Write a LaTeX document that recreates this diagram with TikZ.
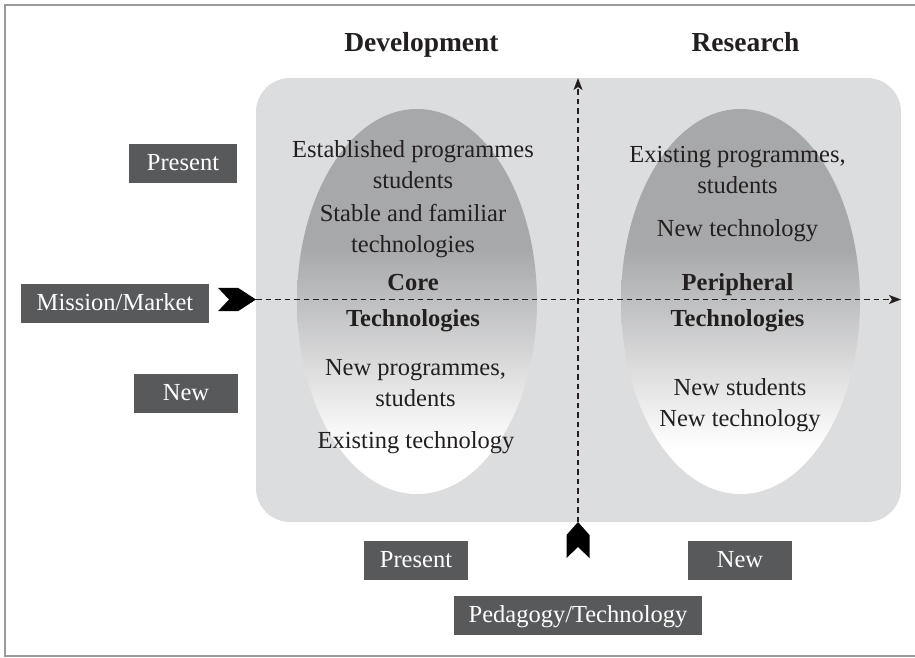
\documentclass[tikz,border=0pt]{standalone}
\usepackage{fontspec}
\setmainfont{Liberation Serif}
\usetikzlibrary{arrows.meta}
\definecolor{boxgray}{HTML}{58595B}
\definecolor{panel}{HTML}{DCDDDF}
\definecolor{ellgray}{HTML}{A7A8AA}
\definecolor{ink}{HTML}{231F20}
\definecolor{framecol}{HTML}{9A9A9A}
\pgfdeclareverticalshading{ellshade}{100bp}{color(0bp)=(white); color(31bp)=(white); color(57bp)=(ellgray); color(100bp)=(ellgray)}
\begin{document}
\begin{tikzpicture}[x=1pt,y=-1pt,
  tag/.style={fill=boxgray, text=white, minimum height=39pt, inner sep=0pt,
    text height=17pt, text depth=4pt, font=\fontsize{24.5}{30}\selectfont},
  body/.style={text=ink, align=center, inner sep=0pt, anchor=base,
    font=\fontsize{24.5}{31}\selectfont},
  boldtxt/.style={text=ink, align=center, inner sep=0pt, anchor=base,
    font=\bfseries\fontsize{24.5}{36}\selectfont},
  title/.style={text=ink, inner sep=0pt, anchor=base,
    font=\bfseries\fontsize{27.5}{32}\selectfont},
  axisline/.style={ink, line width=1.3pt, dash pattern=on 5.5pt off 4pt,
    -{Stealth[length=12pt,width=9pt,inset=3pt]}},
  chevron/.style={fill=black, draw=none},
  ellipsebg/.style={shading=ellshade, draw=none},
]
\useasboundingbox (0,0) rectangle (915,657);
% frame
\draw[framecol, line width=1.2pt] (930,5) -- (5,5) -- (5,656) -- (930,656);
% panel
\fill[panel, rounded corners=34pt] (256,78) rectangle (901,522);
% ellipses
\shade[ellipsebg] (417,301.5) ellipse [x radius=120, y radius=192.5];
\shade[ellipsebg] (740.5,301.5) ellipse [x radius=119.5, y radius=192.5];
% axis coordinates
\coordinate (mmtip) at (256,299.5);
\coordinate (hend) at (901,299.5);
\coordinate (pttip) at (578,522);
\coordinate (vend) at (578,78);
\draw[axisline] (mmtip) -- (hend);
\draw[axisline] (pttip) -- (vend);
% chevrons
\fill[chevron] (mmtip) -- ++(-18,-11.7) -- ++(-20,0) -- ++(11,11.7) -- ++(-11,11.7) -- ++(20,0) -- cycle;
\fill[chevron] (pttip) -- ++(11.5,13) -- ++(0,23) -- ++(-11.5,-11) -- ++(-11.5,11) -- ++(0,-23) -- cycle;
% titles
\node[title] (dev) at (421.5,51) {Development};
\node[title] (res) at (745.5,51) {Research};
% left ellipse texts (base = last line's baseline)
\node[body] (l1) at (413,188.3) {Established programmes\\students};
\node[body] (l2) at (413,252.3) {Stable and familiar\\technologies};
\node[boldtxt] (l3) at (413,326) {Core\\Technologies};
\node[body] (l4) at (415.5,406.7) {New programmes,\\students};
\node[body] (l5) at (416,448.3) {Existing technology};
% right ellipse texts
\node[body] (r1) at (737.5,193.3) {Existing programmes,\\students};
\node[body] (r2) at (737.5,236.7) {New technology};
\node[boldtxt] (r3) at (737.5,326) {Peripheral\\Technologies};
\node[body] (r4) at (740,426.7) {New students\\New technology};
% tags
\node[tag, minimum width=108pt] (present1) at (183,163.5) {Present};
\node[tag, minimum width=188pt] (mission) at (115,303.5) {Mission/Market};
\node[tag, minimum width=104pt] (new1) at (186,393.5) {New};
\node[tag, minimum width=104pt] (present2) at (416,560.5) {Present};
\node[tag, minimum width=104pt] (new2) at (740,560.5) {New};
\node[tag, minimum width=248pt] (peda) at (578,615.5) {Pedagogy/Technology};
\end{tikzpicture}
\end{document}
